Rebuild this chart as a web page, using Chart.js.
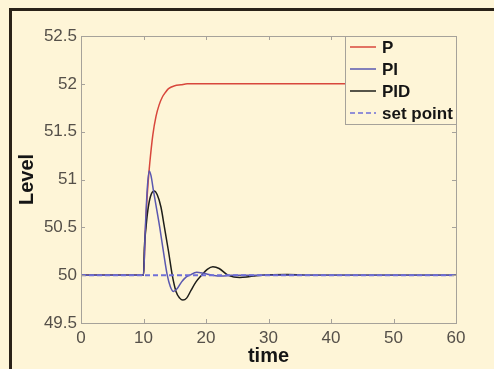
<!DOCTYPE html>
<html>
<head>
<meta charset="utf-8">
<title>Level response</title>
<script src="https://cdn.jsdelivr.net/npm/chart.js@4"></script>
<style>
    html, body {
        margin: 0;
        padding: 0;
        background: #fef5d7;
    }

    #wrap {
        position: relative;
        width: 494px;
        height: 369px;
        overflow: hidden;
    }

    #frame {
        position: absolute;
        left: 9px;
        top: 8px;
        width: 500px;
        height: 400px;
        border-top: 3px solid #2a2218;
        border-left: 3px solid #2a2218;
    }

    #levelChart {
        position: absolute;
        left: 0;
        top: 0;
    }
</style>
</head>
<body>
<div id="wrap">
    <div id="frame"></div>
    <canvas id="levelChart" width="494" height="369"></canvas>
</div>

<script>
// Data (time, level)
const timeP = [0, 10, 10.25, 10.5, 10.75, 11, 11.5, 12, 12.5, 13, 13.5, 14, 15, 16, 17, 20, 60];
const levelP = [50, 50, 50.4, 50.73, 50.98, 51.17, 51.47, 51.66, 51.78, 51.86, 51.91, 51.95, 51.98, 51.99, 52, 52, 52];

const timePI = [0, 10, 10.3, 10.6, 10.9, 11.2, 11.6, 12, 12.6, 13.2, 13.8, 14.3, 14.8, 15.4, 16.1, 16.8, 17.4, 18.5, 19.6, 21, 22.5, 24, 60];
const levelPI = [50, 50, 50.5, 50.9, 51.09, 51.04, 50.88, 50.73, 50.5, 50.24, 50.0, 49.88, 49.83, 49.86, 49.93, 49.98, 50.0, 50.03, 50.02, 50.0, 49.99, 50, 50];

const timePID = [0, 10, 10.15, 10.4, 10.7, 11.1, 11.7, 12.2, 12.8, 13.3, 14, 14.6, 15.2, 15.8, 16.3, 16.9, 17.6, 18.4, 19.3, 20.2, 21.1, 22.1, 23.5, 24.5, 25.4, 26.5, 28, 30, 33, 36, 60];
const levelPID = [50, 50, 50.3, 50.5, 50.68, 50.82, 50.88, 50.84, 50.71, 50.52, 50.25, 50.0, 49.83, 49.76, 49.74, 49.76, 49.84, 49.93, 50.0, 50.06, 50.087, 50.07, 50.0, 49.98, 49.975, 49.98, 49.995, 50.005, 50.008, 50.0, 50];

const timeSet = [0, 60];
const levelSet = [50, 50];

const seriesLabels = ['P', 'PI', 'PID', 'set point'];

// Tick labels
const xTicks = [0, 10, 20, 30, 40, 50, 60];
const yTicks = [49.5, 50, 50.5, 51, 51.5, 52, 52.5];


function toPoints(xs, ys) {

    return xs.map(function(x, i) {
        return { x: x, y: ys[i] };
    });
}


// Axes box with inward ticks, like the original plot
const boxPlugin = {
    id: 'boxPlugin',
    afterDatasetsDraw: function(chart) {

        const ctx = chart.ctx;
        const area = chart.chartArea;
        const xs = chart.scales.x;
        const ys = chart.scales.y;
        const len = 4;

        ctx.save();
        ctx.strokeStyle = '#a6a29a';
        ctx.lineWidth = 1;
        ctx.strokeRect(area.left + 0.5, area.top + 0.5, area.right - area.left, area.bottom - area.top);

        ctx.beginPath();
        xTicks.forEach(function(v) {
            const px = Math.round(xs.getPixelForValue(v)) + 0.5;
            ctx.moveTo(px, area.bottom);
            ctx.lineTo(px, area.bottom - len);
            ctx.moveTo(px, area.top);
            ctx.lineTo(px, area.top + len);
        });
        yTicks.forEach(function(v) {
            const py = Math.round(ys.getPixelForValue(v)) + 0.5;
            ctx.moveTo(area.left, py);
            ctx.lineTo(area.left + len, py);
            ctx.moveTo(area.right, py);
            ctx.lineTo(area.right - len, py);
        });
        ctx.stroke();
        ctx.restore();
    }
};


// Legend box in the upper right corner
const legendPlugin = {
    id: 'legendPlugin',
    afterDraw: function(chart) {

        const ctx = chart.ctx;
        const area = chart.chartArea;
        const w = 111;
        const h = 88;
        const left = area.right - w;
        const top = area.top;

        ctx.save();
        ctx.fillStyle = '#fef5d7';
        ctx.fillRect(left, top, w, h);
        ctx.strokeStyle = '#a6a29a';
        ctx.lineWidth = 1;
        ctx.strokeRect(left + 0.5, top + 0.5, w, h);

        ctx.font = 'bold 17px "Liberation Sans", Arial, sans-serif';
        ctx.textBaseline = 'middle';
        ctx.textAlign = 'left';

        chart.data.datasets.forEach(function(ds, i) {

            const y = top + 11 + i * 22;

            ctx.beginPath();
            ctx.strokeStyle = ds.borderColor;
            ctx.lineWidth = 1.5;
            ctx.setLineDash(ds.borderDash || []);
            ctx.moveTo(left + 5, y);
            ctx.lineTo(left + 31, y);
            ctx.stroke();
            ctx.setLineDash([]);

            ctx.fillStyle = '#151515';
            ctx.fillText(ds.label, left + 37, y + 1);
        });

        ctx.restore();
    }
};


function initLevelChart() {

    const ctx = document.getElementById('levelChart');

    if (!ctx) {
        return;
    }

    const lineBase = {
        fill: false,
        pointRadius: 0,
        borderWidth: 1.5,
        cubicInterpolationMode: 'monotone'
    };

    new Chart(ctx.getContext('2d'), {
        type: 'line',
        data: {
            datasets: [
                Object.assign({}, lineBase, {
                    label: seriesLabels[0],
                    data: toPoints(timeP, levelP),
                    borderColor: '#d8473c',
                    order: 4
                }),
                Object.assign({}, lineBase, {
                    label: seriesLabels[1],
                    data: toPoints(timePI, levelPI),
                    borderColor: '#5a58b0',
                    order: 2
                }),
                Object.assign({}, lineBase, {
                    label: seriesLabels[2],
                    data: toPoints(timePID, levelPID),
                    borderColor: '#1e1e1a',
                    order: 3
                }),
                Object.assign({}, lineBase, {
                    label: seriesLabels[3],
                    data: toPoints(timeSet, levelSet),
                    borderColor: '#6f6fd8',
                    borderWidth: 2,
                    borderDash: [5, 3],
                    order: 1
                })
            ]
        },
        options: {
            responsive: false,
            animation: false,
            layout: {
                padding: { left: 0, top: 36, right: 38, bottom: 0 }
            },
            plugins: {
                legend: { display: false },
                tooltip: { enabled: false }
            },
            scales: {
                x: {
                    type: 'linear',
                    min: 0,
                    max: 60,
                    afterBuildTicks: function(scale) {
                        scale.ticks = xTicks.map(function(v) { return { value: v }; });
                    },
                    afterFit: function(scale) {
                        scale.height = 46;
                    },
                    grid: { display: false, drawTicks: false },
                    border: { display: false },
                    ticks: {
                        padding: 5,
                        color: '#555049',
                        font: { family: '"Liberation Sans", Arial, sans-serif', size: 17 },
                        maxRotation: 0,
                        callback: function(v) { return String(v); }
                    },
                    title: {
                        display: true,
                        text: 'time',
                        color: '#151515',
                        padding: { top: 0, bottom: 1 },
                        font: { family: '"Liberation Sans", Arial, sans-serif', size: 20, weight: 'bold' }
                    }
                },
                y: {
                    min: 49.5,
                    max: 52.5,
                    afterBuildTicks: function(scale) {
                        scale.ticks = yTicks.map(function(v) { return { value: v }; });
                    },
                    afterFit: function(scale) {
                        scale.width = 81;
                    },
                    grid: { display: false, drawTicks: false },
                    border: { display: false },
                    ticks: {
                        padding: 4,
                        color: '#555049',
                        font: { family: '"Liberation Sans", Arial, sans-serif', size: 17 },
                        callback: function(v) { return String(v); }
                    },
                    title: {
                        display: true,
                        text: 'Level',
                        color: '#151515',
                        padding: { top: 15, bottom: 0 },
                        font: { family: '"Liberation Sans", Arial, sans-serif', size: 20, weight: 'bold' }
                    }
                }
            }
        },
        plugins: [boxPlugin, legendPlugin]
    });
}


initLevelChart();
</script>
</body>
</html>
